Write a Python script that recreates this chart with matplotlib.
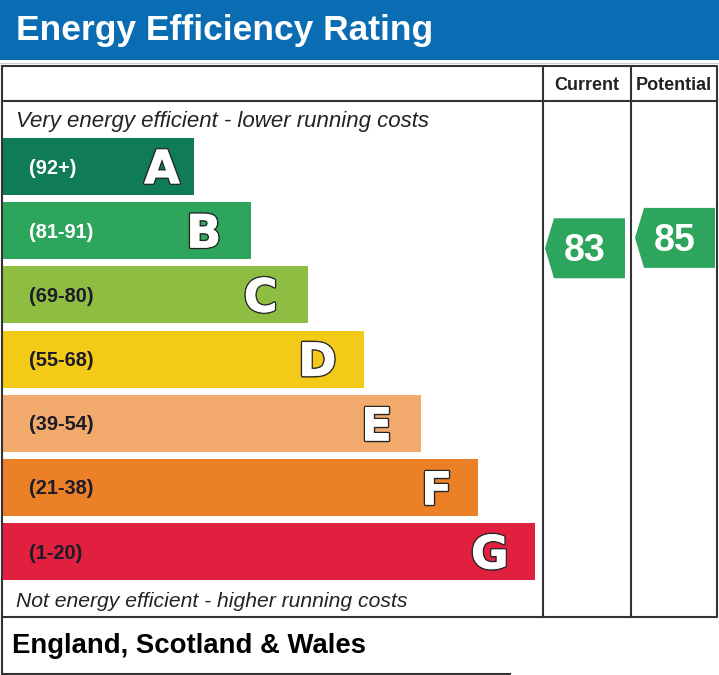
import matplotlib
matplotlib.use("Agg")
import matplotlib.pyplot as plt
from matplotlib.patches import Rectangle, Polygon
import matplotlib.patheffects as pe

# ---- data ----
bands = ["A", "B", "C", "D", "E", "F", "G"]
ranges = ["(92+)", "(81-91)", "(69-80)", "(55-68)", "(39-54)", "(21-38)", "(1-20)"]
lows = [92, 81, 69, 55, 39, 21, 1]
highs = [100, 91, 80, 68, 54, 38, 20]
colors = ["#107c55", "#2ea55c", "#8fbd42", "#f4ca18", "#f1aa6c", "#ec8026", "#e11f3e"]
label_colors = ["white", "white", "#1c1c28", "#1c1c28", "#1c1c28", "#1c1c28", "#1c1c28"]
current_value = 83
potential_value = 85
title = "Energy Efficiency Rating"
col_titles = ["Current", "Potential"]
top_note = "Very energy efficient - lower running costs"
bottom_note = "Not energy efficient - higher running costs"
region = "England, Scotland & Wales"

# ---- layout ----
W, H = 719, 675
fig = plt.figure(figsize=(W / 100, H / 100), dpi=100)
ax = fig.add_axes([0, 0, 1, 1])
ax.set_xlim(0, W)
ax.set_ylim(H, 0)
ax.axis("off")

FONT = "Liberation Sans"
line_c = "#333333"
lw = 1.5

# header
ax.add_patch(Rectangle((0, 0), W, 60, color="#0a6cb3", lw=0))
ax.plot([0, W], [62.5, 62.5], color="#c8ccd4", lw=0.8)
ax.text(16, 40, title, color="white", fontsize=25.5, fontweight="bold",
        family=FONT, va="baseline", ha="left")

# table
tx0, tx1, ty0, ty1 = 1.5, 717, 66, 617
col1, col2 = 542.5, 630.5
ax.plot([tx0, tx1, tx1, tx0, tx0], [ty0, ty0, ty1, ty1, ty0], color=line_c, lw=lw)
ax.plot([tx0, tx1], [101, 101], color=line_c, lw=lw)
ax.plot([col1, col1], [ty0, ty1], color=line_c, lw=lw)
ax.plot([col2, col2], [ty0, ty1], color=line_c, lw=lw)
ax.text((col1 + col2) / 2 + 0.5, 89.5, col_titles[0], fontsize=13, fontweight="bold",
        family=FONT, ha="center", va="baseline", color="#222")
ax.text((col2 + tx1) / 2 + 0.5, 89.5, col_titles[1], fontsize=13, fontweight="bold",
        family=FONT, ha="center", va="baseline", color="#222")

# bottom region box
ax.plot([tx0, tx0], [ty1, 673.5], color=line_c, lw=lw)
ax.plot([tx0, 510], [673.5, 673.5], color=line_c, lw=lw)
ax.text(11.5, 653, region, fontsize=19.8, fontweight="bold", family=FONT,
        ha="left", va="baseline", color="black")

ax.text(16, 127, top_note, fontsize=16, style="italic", family=FONT,
        ha="left", va="baseline", color="#222")
ax.text(16, 607, bottom_note, fontsize=15.2, style="italic", family=FONT,
        ha="left", va="baseline", color="#222")

# bars
bar_top0, bar_step, bar_h = 138, 64.2, 57
bar_len0, bar_len_step = 192, 56.8
letter_inset = [32, 47, 47, 47, 45, 42, 45]
for i, (b, r, c, lc) in enumerate(zip(bands, ranges, colors, label_colors)):
    top = bar_top0 + i * bar_step
    right = 2 + bar_len0 + i * bar_len_step
    yc = top + bar_h / 2
    ax.add_patch(Rectangle((2, top), right - 2, bar_h, color=c, lw=0))
    ax.text(28.5, yc + 7, r, fontsize=14.4, fontweight="bold", family=FONT,
            ha="left", va="baseline", color=lc)
    t = ax.text(right - letter_inset[i], yc + 16.7, b, fontsize=33, fontweight="bold",
                family="DejaVu Sans", ha="center", va="baseline", color="white")
    t.set_path_effects([pe.Stroke(linewidth=2.5, foreground="#262626"),
                        pe.Stroke(linewidth=0.5, foreground="white"),
                        pe.Normal()])


def rating_y(v):
    for i, (lo, hi) in enumerate(zip(lows, highs)):
        if lo <= v <= hi:
            top = bar_top0 + i * bar_step
            return top + (hi - v + 0.5) / (hi - lo + 1) * bar_h + 2
    return 0


def arrow(x_tip, x_right, v, label):
    yc = rating_y(v)
    h = 60
    d = 9
    pts = [(x_tip, yc), (x_tip + d, yc - h / 2), (x_right, yc - h / 2),
           (x_right, yc + h / 2), (x_tip + d, yc + h / 2)]
    ax.add_patch(Polygon(pts, closed=True, color="#2ea55c", lw=0))
    ax.text((x_tip + x_right) / 2, yc + 13, label, fontsize=27, fontweight="bold",
            family=FONT, ha="center", va="baseline", color="white")


arrow(545, 625, current_value, str(current_value))
arrow(635, 715, potential_value, str(potential_value))

fig.savefig("out.png", dpi=100, facecolor="white")
